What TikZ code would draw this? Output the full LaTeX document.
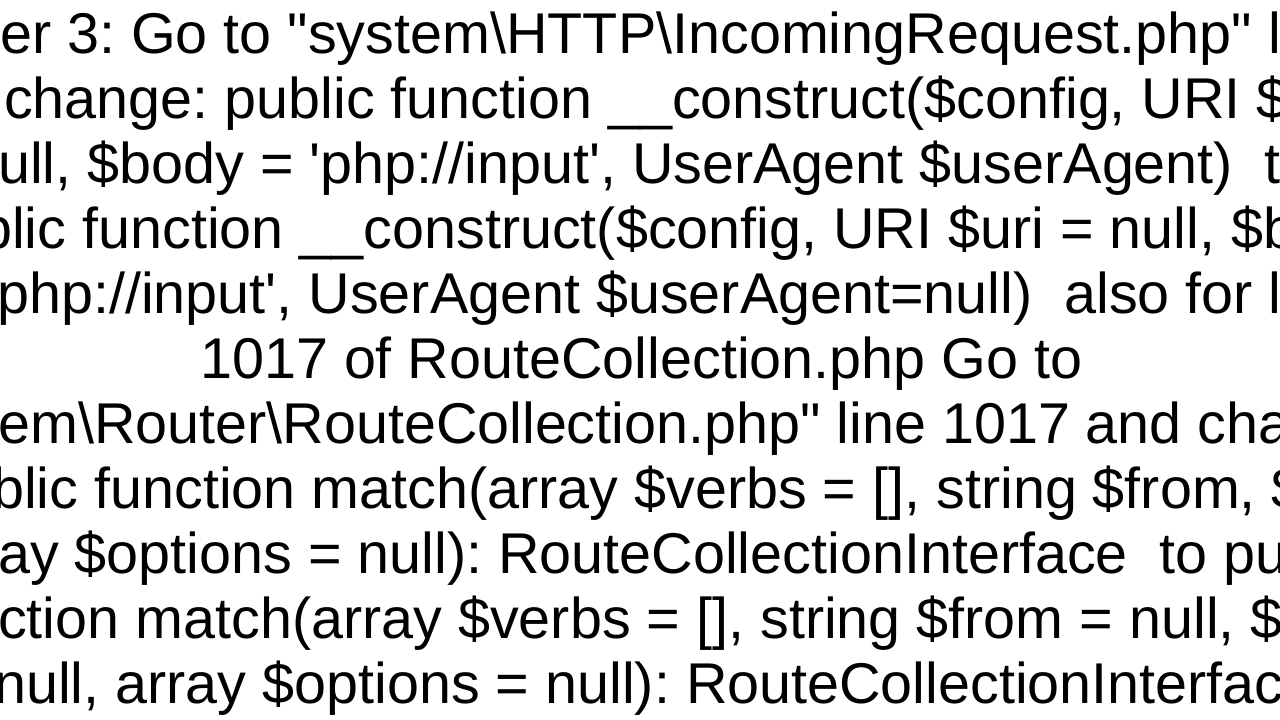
\documentclass[tikz,border=0pt]{standalone}
\usepackage{fontspec}
\setmainfont{Liberation Sans}[Ligatures=TeXOff]
\frenchspacing
\newcommand{\dq}{\symbol{34}}
\newcommand{\sq}{\symbol{39}}
\begin{document}
\begin{tikzpicture}[x=1pt,y=-1pt,txt/.style={anchor=base west,inner sep=0pt,font=\fontsize{57.5}{65}\selectfont}]
\useasboundingbox (0,0) rectangle (1280,720);
\fill[white] (0,0) rectangle (1280,720);
\clip (0,0) rectangle (1280,720);
\node[txt] (l1) at (0,53) {\llap{Answ}er 3: Go to \dq system\textbackslash HTTP\textbackslash IncomingRequest.php\dq{} line 45};
\node[txt] (l2) at (4,118) {change: public function \_\_construct(\$config, URI \$uri =};
\node[txt] (l3) at (-2,183) {\llap{n}ull, \$body = \sq php://input\sq, UserAgent \$userAgent)\ \ to pub};
\node[txt] (l4) at (12,248) {\llap{pub}lic function \_\_construct(\$config, URI \$uri = null, \$body =};
\node[txt] (l5) at (-3,313) {\llap{\sq}php://input\sq, UserAgent \$userAgent=null)\ \ also for line};
\node[txt] (l6) at (200,378) {1017 of RouteCollection.php Go to};
\node[txt] (l7) at (-2,443) {\llap{\dq syst}em\textbackslash Router\textbackslash RouteCollection.php\dq{} line 1017 and change:};
\node[txt] (l8) at (-8,508) {\llap{pu}blic function match(array \$verbs = [], string \$from, \$to,};
\node[txt] (l9) at (-2,573) {\llap{arr}ay \$options = null): RouteCollectionInterface\ \ to public};
\node[txt] (l10) at (-2,638) {\llap{fun}ction match(array \$verbs = [], string \$from = null, \$to =};
\node[txt] (l11) at (-6,703) {null, array \$options = null): RouteCollectionInterface};
\end{tikzpicture}
\end{document}
